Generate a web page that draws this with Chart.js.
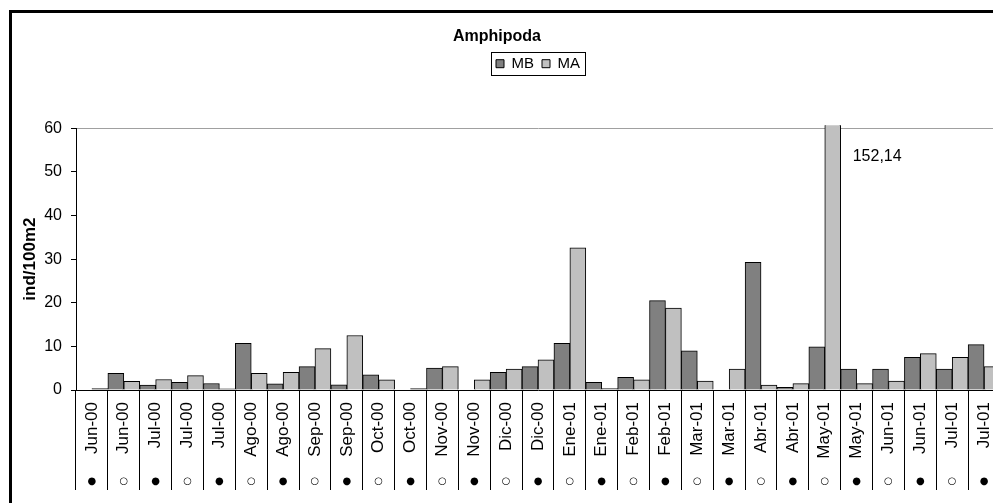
<!DOCTYPE html>
<html lang="es">
<head>
<meta charset="UTF-8">
<title>Amphipoda</title>
<script src="https://cdn.jsdelivr.net/npm/chart.js"></script>
<style>
  html, body { margin: 0; padding: 0; background: #fff; overflow: hidden; }
  body { width: 993px; height: 503px; position: relative; }
  #frame {
    position: absolute; left: 9px; top: 10px;
    width: 1000px; height: 490px;
    border-left: 3px solid #000; border-top: 3px solid #000;
  }
  #frame canvas { display: block; }
</style>
</head>
<body>
<div id="frame"><canvas id="chart"></canvas></div>
<script>
// fechas de muestreo (● / ○ = tipo de muestreo)
const months = ['Jun-00', 'Jun-00', 'Jul-00', 'Jul-00', 'Jul-00', 'Ago-00', 'Ago-00', 'Sep-00', 'Sep-00', 'Oct-00',
                'Oct-00', 'Nov-00', 'Nov-00', 'Dic-00', 'Dic-00', 'Ene-01', 'Ene-01', 'Feb-01', 'Feb-01', 'Mar-01',
                'Mar-01', 'Abr-01', 'Abr-01', 'May-01', 'May-01', 'Jun-01', 'Jun-01', 'Jul-01', 'Jul-01'];
const marks = ['●', '○', '●', '○', '●', '○', '●', '○', '●', '○',
               '●', '○', '●', '○', '●', '○', '●', '○', '●', '○',
               '●', '○', '●', '○', '●', '○', '●', '○', '●'];

// ind/100m2
const mb = [0, 3.8, 1.15, 1.75, 1.5, 10.7, 1.4, 5.35, 1.2, 3.45,
            0, 5.05, 0, 4.05, 5.35, 10.7, 1.75, 2.9, 20.5, 9.0,
            0, 29.25, 0.6, 9.9, 4.8, 4.8, 7.5, 4.8, 10.4];
const ma = [0.3, 2.0, 2.4, 3.3, 0.25, 3.8, 4.05, 9.5, 12.5, 2.35,
            0.3, 5.35, 2.35, 4.8, 6.9, 32.6, 0.35, 2.35, 18.8, 2.05,
            4.8, 1.15, 1.45, 152.14, 1.45, 2.05, 8.35, 7.5, 5.35];

const yMax = 60;
const yStep = 10;

Chart.defaults.font.family = '"Liberation Sans", Arial, sans-serif';
Chart.defaults.color = '#000';

// desplazamientos de titulo y leyenda como en el grafico de Excel
const TITLE_SHIFT = -9;
const LEGEND_SHIFT = 32;
const LEGEND_GAP = 47;

const excelLook = {
    id: 'excelLook',
    beforeInit(chart) {
        const legend = chart.legend;
        const fit = legend.fit;
        legend.fit = function () {
            fit.call(this);
            this.height += LEGEND_GAP;
        };
    },
    afterLayout(chart) {
        chart.titleBlock.left += TITLE_SHIFT;
        chart.titleBlock.right += TITLE_SHIFT;
        chart.legend.left += LEGEND_SHIFT;
        chart.legend.right += LEGEND_SHIFT;
    },
    afterDraw(chart) {
        const boxes = chart.legend.legendHitBoxes;
        if (!boxes || !boxes.length) return;
        const l = Math.min(...boxes.map(b => b.left)) - 5;
        const r = Math.max(...boxes.map(b => b.left + b.width)) + 5;
        const t = boxes[0].top - 4;
        const b = boxes[0].top + boxes[0].height + 4;
        const ctx = chart.ctx;
        ctx.save();
        ctx.strokeStyle = '#000';
        ctx.lineWidth = 1;
        ctx.strokeRect(Math.round(l) + 0.5, Math.round(t) + 0.5, Math.round(r - l), Math.round(b - t));
        ctx.restore();
    }
};

// valor de la barra que sale de la escala
const peakLabel = {
    id: 'peakLabel',
    afterDatasetsDraw(chart) {
        const i = ma.findIndex(v => v > yMax);
        if (i < 0) return;
        const bar = chart.getDatasetMeta(1).data[i];
        const ctx = chart.ctx;
        ctx.save();
        ctx.font = '16px "Liberation Sans", Arial, sans-serif';
        ctx.fillStyle = '#000';
        ctx.textBaseline = 'middle';
        ctx.fillText(ma[i].toFixed(2).replace('.', ','), bar.x + bar.width / 2 + 12, chart.chartArea.top + 28);
        ctx.restore();
    }
};

const chart = new Chart(document.getElementById('chart'), {
    type: 'bar',
    data: {
        labels: months,
        datasets: [
            {
                label: 'MB',
                data: mb,
                backgroundColor: '#808080',
                borderColor: '#000',
                borderWidth: 1,
                barPercentage: 1,
                categoryPercentage: 1,
                clip: {left: 0, top: 3, right: 0, bottom: 0}
            },
            {
                label: 'MA',
                data: ma,
                backgroundColor: '#c0c0c0',
                borderColor: '#000',
                borderWidth: 1,
                barPercentage: 1,
                categoryPercentage: 1,
                clip: {left: 0, top: 3, right: 0, bottom: 0}
            }
        ]
    },
    options: {
        responsive: true,
        maintainAspectRatio: false,
        animation: false,
        layout: { padding: { left: 0, right: 12, top: 0, bottom: 7 } },
        plugins: {
            title: {
                display: true,
                text: 'Amphipoda',
                color: '#000',
                font: { size: 16, weight: 'bold' },
                padding: { top: 14, bottom: 2 }
            },
            legend: {
                position: 'top',
                labels: {
                    boxWidth: 8,
                    boxHeight: 8,
                    padding: 8,
                    color: '#000',
                    font: { size: 15 }
                }
            },
            tooltip: { enabled: false }
        },
        scales: {
            x: {
                type: 'category',
                offset: true,
                grid: {
                    offset: true,
                    drawOnChartArea: false,
                    tickLength: 100,
                    color: '#000',
                    lineWidth: 1
                },
                border: { color: '#000', width: 1 },
                ticks: {
                    autoSkip: false,
                    minRotation: 90,
                    maxRotation: 90,
                    padding: -88,
                    color: '#000',
                    font: { size: 17 }
                },
                afterFit(scale) { scale.height = 84; }
            },
            x2: {
                type: 'category',
                position: 'bottom',
                labels: marks,
                offset: true,
                grid: { display: false, drawTicks: false },
                border: { display: false },
                ticks: {
                    autoSkip: false,
                    minRotation: 0,
                    maxRotation: 0,
                    padding: 1,
                    color: '#000',
                    font: { family: '"DejaVu Sans", sans-serif', size: 10 }
                },
                afterFit(scale) { scale.height = 22; }
            },
            y: {
                min: 0,
                max: yMax,
                ticks: {
                    stepSize: yStep,
                    padding: 9,
                    color: '#000',
                    font: { size: 16 }
                },
                grid: {
                    drawOnChartArea: true,
                    tickLength: 5,
                    tickColor: '#000',
                    color: c => (c.tick && c.tick.value === yMax) ? '#a0a0a0' : 'rgba(0,0,0,0)'
                },
                border: { color: '#000', width: 1 },
                title: {
                    display: true,
                    text: 'ind/100m2',
                    color: '#000',
                    font: { size: 17, weight: 'bold' },
                    padding: { top: 8, bottom: 0 }
                },
                afterFit(scale) { scale.width = 64; }
            }
        }
    },
    plugins: [excelLook, peakLabel]
});
</script>
</body>
</html>
